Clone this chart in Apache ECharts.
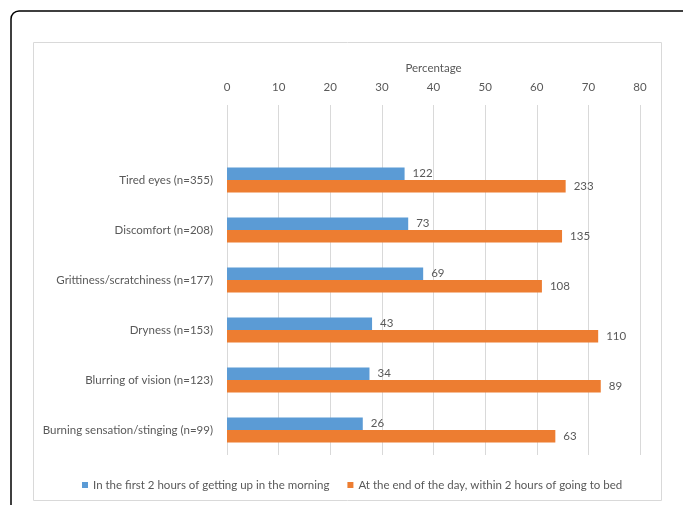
<!DOCTYPE html>
<html>
<head>
<meta charset="utf-8">
<script src="https://cdn.jsdelivr.net/npm/echarts@6/dist/echarts.min.js"></script>
<style>
html,body{margin:0;padding:0;background:#fff;}
#chart{width:683px;height:505px;}
</style>
</head>
<body>
<div id="chart"></div>
<script>
const categories = ['Tired eyes (n=355)', 'Discomfort (n=208)', 'Grittiness/scratchiness (n=177)', 'Dryness (n=153)', 'Blurring of vision (n=123)', 'Burning sensation/stinging (n=99)'];
const morningPct = [34.4, 35.1, 38.0, 28.1, 27.6, 26.3];
const eveningPct = [65.6, 64.9, 61.0, 71.9, 72.4, 63.6];
const morningCount = [122, 73, 69, 43, 34, 26];
const eveningCount = [233, 135, 108, 110, 89, 63];
const xTicks = [0, 10, 20, 30, 40, 50, 60, 70, 80];
const seriesNames = ['In the first 2 hours of getting up in the morning', 'At the end of the day, within 2 hours of going to bed'];

const FONT = 'Lato';
const FS = 11.5;
const TXT = '#595959';
const cats = [''].concat(categories);
const mData = [null].concat(morningPct);
const eData = [null].concat(eveningPct);
const mCnt = [null].concat(morningCount);
const eCnt = [null].concat(eveningCount);

const chart = echarts.init(document.getElementById('chart'), null, {renderer: 'canvas'});
chart.setOption({
  animation: false,
  textStyle: {fontFamily: FONT},
  graphic: [
    {type: 'rect', shape: {x: 11, y: 11, width: 690, height: 520, r: 8}, style: {fill: 'none', stroke: '#000', lineWidth: 1.5}, z: -10},
    {type: 'rect', shape: {x: 33.5, y: 42.5, width: 628, height: 458}, style: {fill: 'none', stroke: '#D9D9D9', lineWidth: 1}, z: -10}
  ],
  grid: {left: 227, right: 43, top: 105, height: 350, containLabel: false},
  legend: {
    bottom: 9, left: 77,
    itemWidth: 6, itemHeight: 6, itemGap: 18, icon: 'rect',
    textStyle: {color: TXT, fontSize: FS, fontFamily: FONT},
    data: seriesNames
  },
  xAxis: {
    type: 'value', position: 'top', min: xTicks[0], max: xTicks[xTicks.length - 1], interval: 10,
    name: 'Percentage', nameLocation: 'middle', nameGap: 31,
    nameTextStyle: {color: TXT, fontSize: FS, fontFamily: FONT},
    axisLine: {show: false}, axisTick: {show: false},
    axisLabel: {color: TXT, fontSize: FS, margin: 12, fontFamily: FONT},
    splitLine: {show: true, lineStyle: {color: '#D9D9D9', width: 1}}
  },
  yAxis: {
    type: 'category', inverse: true, data: cats,
    axisLine: {show: false}, axisTick: {show: false},
    axisLabel: {color: TXT, fontSize: FS, margin: 14, fontFamily: FONT},
    splitLine: {show: false}
  },
  series: [
    {
      name: seriesNames[0], type: 'bar', data: mData, barGap: '0%', barCategoryGap: '50%',
      itemStyle: {color: '#5B9BD5'},
      label: {show: true, position: 'right', distance: 8, color: TXT, fontSize: FS, fontFamily: FONT,
        formatter: p => mCnt[p.dataIndex] == null ? '' : String(mCnt[p.dataIndex])}
    },
    {
      name: seriesNames[1], type: 'bar', data: eData, barGap: '0%', barCategoryGap: '50%',
      itemStyle: {color: '#ED7D31'},
      label: {show: true, position: 'right', distance: 8, color: TXT, fontSize: FS, fontFamily: FONT,
        formatter: p => eCnt[p.dataIndex] == null ? '' : String(eCnt[p.dataIndex])}
    }
  ]
});
</script>
</body>
</html>
